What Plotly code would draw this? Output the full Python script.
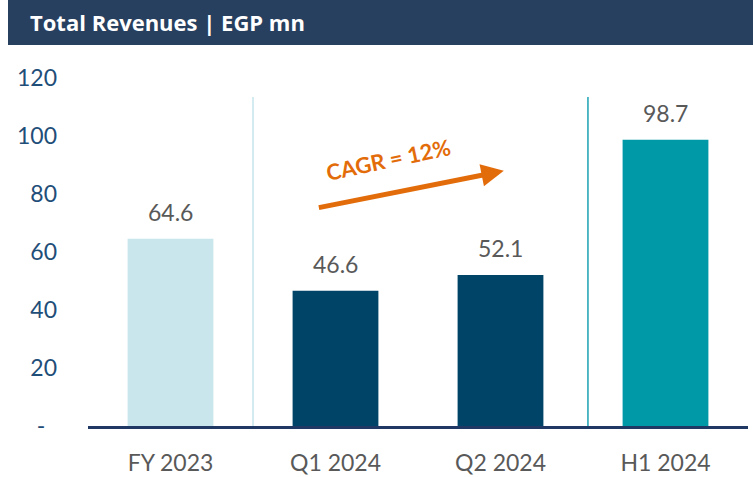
import plotly.graph_objects as go

categories = ["FY 2023", "Q1 2024", "Q2 2024", "H1 2024"]
revenues = [64.6, 46.6, 52.1, 98.7]
tick_vals = [0, 20, 40, 60, 80, 100, 120]
tick_text = ["-\u00a0\u00a0", "20", "40", "60", "80", "100", "120"]
bar_colors = ["#C8E6EC", "#004468", "#004468", "#0099A8"]

W, H = 753, 477
ML, MR, MT, MB = 88, 5, 78, 51
pw = W - ML - MR
ph = H - MT - MB

def px_x(p):
    return (p - ML) / pw

def px_y(p):
    return (H - MB - p) / ph

FONT = "Lato"

fig = go.Figure()
fig.add_trace(go.Bar(
    x=categories, y=revenues,
    marker=dict(color=bar_colors, line=dict(width=0)),
    width=0.52,
    hoverinfo="skip",
))

for c, v in zip(categories, revenues):
    fig.add_annotation(x=c, y=v, text=f"{v:.1f}", showarrow=False,
                       yanchor="bottom", yshift=11,
                       font=dict(family=FONT, size=23, color="#595959"))

# title bar
fig.add_shape(type="rect", xref="paper", yref="paper",
              x0=px_x(8), x1=px_x(753), y0=px_y(45), y1=px_y(0),
              fillcolor="#27405F", line=dict(width=0), layer="above")
fig.add_annotation(xref="paper", yref="paper", x=px_x(28), y=px_y(22),
                   xanchor="left", yanchor="middle", showarrow=False,
                   text="<b>Total Revenues | EGP mn</b>",
                   font=dict(family="Open Sans", size=22, color="white"))

# separators
fig.add_shape(type="line", xref="x", yref="paper", x0=0.5, x1=0.5,
              y0=0, y1=px_y(97), line=dict(color="#C5E5EC", width=1.5))
fig.add_shape(type="line", xref="x", yref="paper", x0=2.53, x1=2.53,
              y0=0, y1=px_y(97), line=dict(color="#1BA3B3", width=1.5))

# CAGR arrow
fig.add_annotation(x=2.02, y=88.0, ax=0.89, ay=75.2, xref="x", yref="y",
                   axref="x", ayref="y", text="", showarrow=True,
                   arrowhead=2, arrowsize=0.9, arrowwidth=5, arrowcolor="#E36C0A")
fig.add_annotation(x=1.32, y=92.0, xref="x", yref="y", text="<b>CAGR = 12%</b>",
                   showarrow=False, textangle=-12,
                   font=dict(family=FONT, size=22, color="#E36C0A"))

fig.update_layout(
    width=W, height=H,
    margin=dict(l=ML, r=MR, t=MT, b=MB),
    paper_bgcolor="white", plot_bgcolor="white",
    showlegend=False,
    xaxis=dict(showgrid=False, showline=True, linecolor="#1F3864", linewidth=2.5,
               ticks="", ticklabelstandoff=15, automargin=False,
               tickfont=dict(family=FONT, size=23, color="#595959"),
               range=[-0.5, 3.5], fixedrange=True),
    yaxis=dict(range=[0, 120], tickvals=tick_vals, ticktext=tick_text,
               showgrid=False, zeroline=False, showline=False, ticks="",
               ticklabelstandoff=30, automargin=False,
               tickfont=dict(family=FONT, size=23, color="#1F4E79")),
)

fig.write_html("out.html", config={"displayModeBar": False},
               post_script="document.body.style.margin='0px';")
